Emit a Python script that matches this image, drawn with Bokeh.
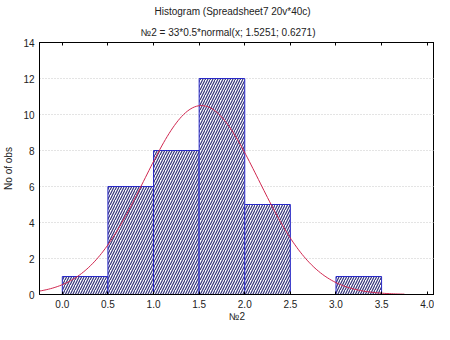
import math
from bokeh.plotting import figure
from bokeh.models import ColumnDataSource, Title, LinearAxis, FixedTicker, Range1d
from bokeh.embed import file_html
from bokeh.resources import INLINE

# ---- data ----
bin_left = [0.0, 0.5, 1.0, 1.5, 2.0, 2.5, 3.0]
bin_right = [0.5, 1.0, 1.5, 2.0, 2.5, 3.0, 3.5]
counts = [1, 6, 8, 12, 5, 0, 1]
x_ticks = [0.0, 0.5, 1.0, 1.5, 2.0, 2.5, 3.0, 3.5, 4.0]
y_ticks = [0, 2, 4, 6, 8, 10, 12, 14]
# fitted normal curve parameters (from subtitle)
fit_n = 33
fit_width = 0.5
fit_mu = 1.5251
fit_sigma = 0.6271
curve_start, curve_end = -0.25, 3.75

FONT = "Liberation Sans"

bars = dict(left=[], right=[], top=[])
for l, r, c in zip(bin_left, bin_right, counts):
    if c > 0:
        bars["left"].append(l)
        bars["right"].append(r)
        bars["top"].append(c)
bar_src = ColumnDataSource(bars)

steps = 200
cx = [curve_start + (curve_end - curve_start) * i / steps for i in range(steps + 1)]
cy = [fit_n * fit_width * math.exp(-0.5 * ((v - fit_mu) / fit_sigma) ** 2) / (fit_sigma * math.sqrt(2 * math.pi)) for v in cx]
curve_src = ColumnDataSource(dict(x=cx, y=cy))

p = figure(width=434, height=324, output_backend="svg", toolbar_location=None,
           x_range=Range1d(-0.25, 4.08), y_range=Range1d(0, 14),
           min_border_left=34, min_border_right=0, min_border_top=10, min_border_bottom=0)
p.title = None

p.quad(left="left", right="right", bottom=0, top="top", source=bar_src,
       fill_color="white", line_color="#2a2ac8", line_width=1,
       hatch_pattern="/", hatch_color="#34347a", hatch_scale=5, hatch_weight=1.2)
p.line("x", "y", source=curve_src, line_color="#d02850", line_width=1)

p.xgrid.visible = False
p.ygrid.ticker = FixedTicker(ticks=[2, 4, 6, 8, 10, 12])
p.ygrid.grid_line_color = "#c8c8c8"
p.ygrid.grid_line_dash = "1 2"

p.outline_line_color = "black"
p.outline_line_width = 1

xa = p.xaxis[0]
xa.ticker = FixedTicker(ticks=x_ticks)
xa.major_label_overrides = {t: f"{t:.1f}" for t in x_ticks}
xa.axis_label = "№2"
xa.major_tick_in = 3
xa.major_tick_out = 0
xa.minor_tick_in = 0
xa.minor_tick_out = 0
xa.axis_line_color = "black"
xa.major_label_standoff = 5
xa.axis_label_standoff = 0

ya = p.yaxis[0]
ya.ticker = FixedTicker(ticks=y_ticks)
ya.axis_label = "No of obs"
ya.major_tick_in = 0
ya.major_tick_out = 0
ya.minor_tick_in = 0
ya.minor_tick_out = 0
ya.major_label_standoff = 5
ya.axis_label_standoff = 6

for ax in (xa, ya):
    ax.major_label_text_font = FONT
    ax.major_label_text_font_size = "10px"
    ax.major_label_text_color = "#222222"
    ax.axis_label_text_font = FONT
    ax.axis_label_text_font_size = "10px"
    ax.axis_label_text_font_style = "normal"
    ax.axis_label_text_color = "#222222"

top_axis = LinearAxis(ticker=FixedTicker(ticks=x_ticks),
                      major_label_overrides={t: "" for t in x_ticks},
                      major_tick_in=3, major_tick_out=0, minor_tick_in=0, minor_tick_out=0,
                      major_label_standoff=0, axis_line_color="black")
p.add_layout(top_axis, "above")

p.add_layout(Title(text="№2 = 33*0.5*normal(x; 1.5251; 0.6271)", align="left",
                   text_font=FONT, text_font_size="10px", text_font_style="normal",
                   text_color="#222222", offset=101, standoff=10), "above")
p.add_layout(Title(text="Histogram (Spreadsheet7 20v*40c)", align="left",
                   text_font=FONT, text_font_size="10px", text_font_style="normal",
                   text_color="#222222", offset=112, standoff=0, padding=3), "above")

open("out.html", "w").write(file_html(p, INLINE))
